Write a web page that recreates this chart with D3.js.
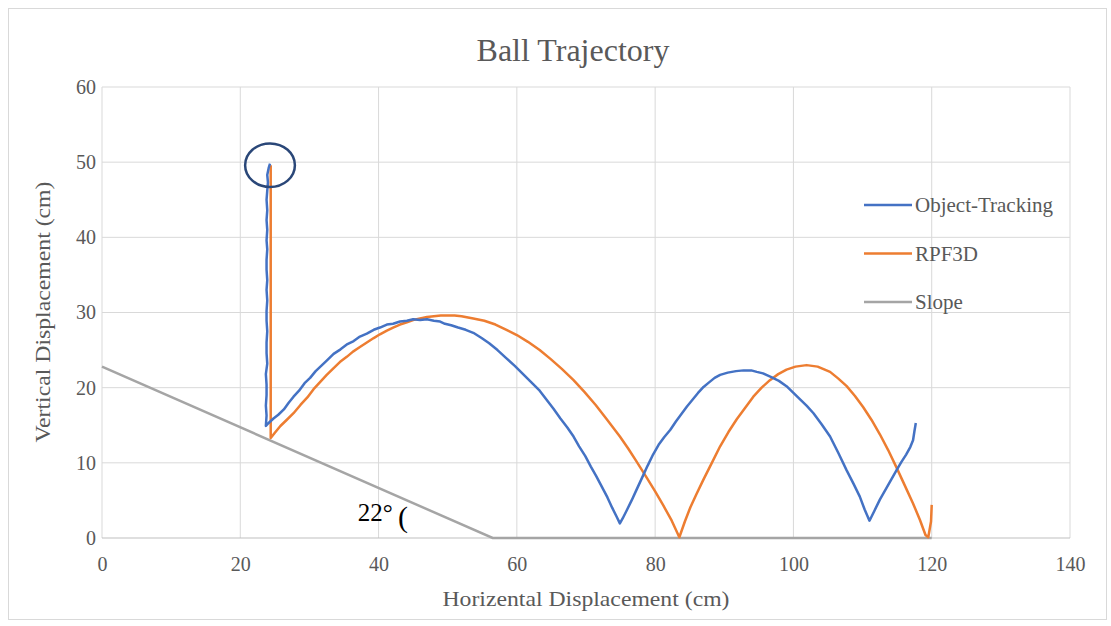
<!DOCTYPE html>
<meta charset="utf-8">
<style>
  body { margin: 0; background: #fff; }
  text { font-family: "Liberation Serif", "Times New Roman", serif; }
</style>
<body>
<div id="chart"></div>
<script src="https://d3js.org/d3.v7.min.js"></script>
<script>
// ——— data (cm) ———
const xTicks = [0, 20, 40, 60, 80, 100, 120, 140];
const yTicks = [0, 10, 20, 30, 40, 50, 60];

const objectTracking = [
  [24.3,49.8],[24.1,49.2],[23.9,48.3],[24.0,47.3],[23.9,46.2],[23.8,45.0],[23.9,43.6],[23.8,42.3],
  [23.9,41.0],[23.8,39.6],[23.9,38.4],[23.8,37.0],[23.8,35.7],[23.9,34.3],[23.8,33.0],[23.9,31.6],
  [23.8,30.2],[23.8,28.9],[23.9,27.5],[23.8,26.0],[23.8,24.6],[23.9,23.2],[23.7,21.8],[23.8,20.4],
  [23.8,19.0],[23.7,17.6],[23.8,16.3],[23.7,14.9],[24.1,15.3],[24.8,15.9],
  [25.5,16.4],[26.3,17.1],[27.0,18.0],[27.7,18.8],[28.5,19.6],[29.3,20.6],[30.1,21.3],[30.9,22.2],
  [31.7,22.9],[32.5,23.6],[33.5,24.5],[34.5,25.1],[35.5,25.8],[36.4,26.2],[37.3,26.8],[38.3,27.2],
  [39.3,27.7],[40.2,28.0],[41.2,28.4],[42.1,28.5],[43.1,28.8],[44.1,28.9],[45.0,29.1],[46.0,29.0],
  [47.0,29.1],[48.0,28.9],[48.9,28.8],[49.6,28.5],[50.5,28.3],[51.5,28.0],[52.6,27.7],[53.7,27.3],
  [54.9,26.6],[56.0,25.9],[57.2,25.0],[58.5,23.9],[59.7,22.9],[60.9,21.8],[62.1,20.7],[63.3,19.6],
  [64.3,18.4],[65.3,17.2],[66.3,15.9],[67.3,14.7],[68.2,13.5],[69.0,12.2],[69.9,10.9],[70.7,9.5],
  [71.5,8.2],[72.3,6.8],[73.1,5.4],[73.8,4.0],[74.4,2.9],[74.9,1.95],
  [75.3,2.6],[75.9,3.7],[76.6,5.0],[77.3,6.4],[78.1,8.0],[78.9,9.6],[79.7,11.1],[80.5,12.4],
  [81.3,13.4],[82.2,14.4],[83.0,15.5],[83.8,16.5],[84.6,17.5],[85.4,18.4],[86.2,19.3],[87.0,20.1],
  [87.8,20.7],[88.6,21.3],[89.4,21.7],[90.5,22.0],[91.7,22.2],[92.8,22.3],[93.9,22.3],[94.7,22.1],
  [95.6,21.9],[96.8,21.4],[97.9,20.9],[99.0,20.2],[100.0,19.3],[101.0,18.4],[101.9,17.6],[102.9,16.6],
  [104.1,15.1],[105.3,13.5],[106.5,11.3],[107.7,9.0],[108.7,7.2],[109.6,5.5],[110.3,3.8],[111.0,2.3],
  [111.7,3.6],[112.5,5.1],[113.3,6.4],[114.1,7.7],[114.9,9.0],[115.6,10.1],[116.3,11.1],[116.9,12.1],
  [117.3,13.0],[117.5,14.2],[117.7,15.3]
];

const rpf3d = [
  [24.4,49.6],[24.4,13.3],
  [25.0,14.0],[25.8,14.9],[26.7,15.7],[27.7,16.6],[28.7,17.7],[29.7,18.7],[30.6,19.8],[31.6,20.8],
  [32.5,21.7],[33.5,22.6],[34.4,23.4],[35.4,24.1],[36.3,24.8],[37.3,25.4],[38.3,26.0],[39.3,26.6],
  [40.2,27.1],[41.2,27.6],[42.1,28.0],[43.1,28.4],[44.1,28.7],[45.0,29.0],[46.0,29.2],[47.0,29.4],
  [48.0,29.5],[49.0,29.6],[50.0,29.6],[51.0,29.6],[52.0,29.5],[53.7,29.2],[55.3,28.9],[56.9,28.4],
  [58.5,27.7],[60.0,27.0],[61.6,26.1],[63.3,25.0],[64.9,23.8],[66.5,22.5],[68.2,21.0],[69.8,19.4],
  [71.4,17.7],[73.0,15.8],[74.9,13.5],[76.1,11.9],[77.3,10.2],[78.8,8.0],[80.0,6.2],[81.2,4.3],
  [82.4,2.3],[83.5,0.1],
  [84.3,2.2],[85.1,4.1],[86.0,5.9],[87.0,7.8],[88.2,10.0],[89.4,12.2],[90.6,14.1],[91.8,15.8],
  [93.0,17.3],[94.2,18.8],[95.4,20.0],[96.6,21.0],[97.8,21.8],[99.0,22.4],[100.3,22.8],[101.9,23.0],
  [103.5,22.8],[105.3,22.1],[106.5,21.2],[107.7,20.2],[108.9,18.9],[110.1,17.4],[111.3,15.7],
  [112.5,13.8],[113.7,11.7],[114.9,9.4],[116.1,7.0],[117.3,4.6],[118.3,2.4],[119.1,0.4],[119.5,0.1],
  [119.9,2.2],[120.0,4.4]
];

const slope = [[0,22.8],[56.5,0],[120,0]];

const seriesNames = ["Object-Tracking", "RPF3D", "Slope"];
const seriesColors = ["#4472C4", "#ED7D31", "#A5A5A5"];

// drop-point circle and angle note, in data units
const dropCircle = { cx: 24.3, cy: 49.6, rx: 3.6, ry: 2.9 };
const angleNote = { x: 37.0, y: 2.2, text: "22°" };
const angleArc = { x: 42.8, y: 1.5, text: "(" };

// ——— svg & scales ———
const W = 1111, H = 626;
const margin = { top: 87, right: 41, bottom: 88, left: 102 };
const width = W - margin.left - margin.right;
const height = H - margin.top - margin.bottom;

const svg = d3.select("#chart").append("svg")
    .attr("width", W)
    .attr("height", H);

svg.append("rect")
    .attr("x", 8.5).attr("y", 8.5)
    .attr("width", 1098).attr("height", 611)
    .attr("fill", "#fff")
    .attr("stroke", "#d9d9d9");

const x = d3.scaleLinear().domain([0, 140]).range([0, width]);
const y = d3.scaleLinear().domain([0, 60]).range([height, 0]);

const g = svg.append("g")
    .attr("transform", `translate(${margin.left},${margin.top})`);

// gridlines
g.append("g").selectAll("line")
  .data(xTicks)
  .join("line")
    .attr("x1", d => x(d)).attr("x2", d => x(d))
    .attr("y1", 0).attr("y2", height)
    .attr("stroke", "#d9d9d9");

g.append("g").selectAll("line")
  .data(yTicks)
  .join("line")
    .attr("x1", 0).attr("x2", width)
    .attr("y1", d => y(d)).attr("y2", d => y(d))
    .attr("stroke", d => d === 0 ? "#bfbfbf" : "#d9d9d9");

// axes (labels only)
g.append("g")
    .attr("transform", `translate(0,${height})`)
    .call(d3.axisBottom(x).tickValues(xTicks).tickSize(0).tickPadding(19))
    .call(a => a.select(".domain").remove())
    .selectAll("text")
      .attr("font-family", "Liberation Serif")
      .attr("font-size", 20)
      .attr("fill", "#595959");

g.append("g")
    .call(d3.axisLeft(y).tickValues(yTicks).tickSize(0).tickPadding(6))
    .call(a => a.select(".domain").remove())
    .selectAll("text")
      .attr("font-family", "Liberation Serif")
      .attr("font-size", 20)
      .attr("fill", "#595959");

// series
const line = d3.line().x(d => x(d[0])).y(d => y(d[1]));

g.append("path").datum(slope)
    .attr("d", line).attr("fill", "none")
    .attr("stroke", seriesColors[2]).attr("stroke-width", 2.5);

g.append("path").datum(rpf3d)
    .attr("d", line).attr("fill", "none")
    .attr("stroke", seriesColors[1]).attr("stroke-width", 2.5)
    .attr("stroke-linejoin", "round");

g.append("path").datum(objectTracking)
    .attr("d", line).attr("fill", "none")
    .attr("stroke", seriesColors[0]).attr("stroke-width", 2.5)
    .attr("stroke-linejoin", "round");

// annotations
g.append("ellipse")
    .attr("cx", x(dropCircle.cx))
    .attr("cy", y(dropCircle.cy))
    .attr("rx", x(dropCircle.rx) - x(0))
    .attr("ry", y(0) - y(dropCircle.ry))
    .attr("fill", "none")
    .attr("stroke", "#2a4778")
    .attr("stroke-width", 2.5);

g.append("text")
    .attr("x", x(angleNote.x)).attr("y", y(angleNote.y))
    .attr("font-size", 25).attr("fill", "#000")
    .text(angleNote.text);

g.append("text")
    .attr("x", x(angleArc.x)).attr("y", y(angleArc.y))
    .attr("font-size", 30).attr("fill", "#000")
    .text(angleArc.text);

// title
svg.append("text")
    .attr("x", 573).attr("y", 61)
    .attr("text-anchor", "middle")
    .attr("font-size", 32)
    .attr("fill", "#595959")
    .text("Ball Trajectory");

// axis titles
svg.append("text")
    .attr("x", 586).attr("y", 606)
    .attr("text-anchor", "middle")
    .attr("font-size", 22)
    .attr("fill", "#595959")
    .attr("textLength", 287)
    .attr("lengthAdjust", "spacingAndGlyphs")
    .text("Horizental Displacement (cm)");

svg.append("text")
    .attr("transform", "translate(50,312) rotate(-90)")
    .attr("text-anchor", "middle")
    .attr("font-size", 22)
    .attr("fill", "#595959")
    .attr("textLength", 261)
    .attr("lengthAdjust", "spacingAndGlyphs")
    .text("Vertical Displacement (cm)");

// legend
const legend = svg.append("g").attr("transform", "translate(864,205)");
const item = legend.selectAll("g")
  .data(seriesNames)
  .join("g")
    .attr("transform", (d, i) => `translate(0,${i * 48.5})`);

item.append("line")
    .attr("x1", 0).attr("x2", 48)
    .attr("stroke", (d, i) => seriesColors[i])
    .attr("stroke-width", 2.5);

item.append("text")
    .attr("x", 51).attr("y", 7)
    .attr("font-size", 21)
    .attr("fill", "#595959")
    .text(d => d);
</script>
</body>
